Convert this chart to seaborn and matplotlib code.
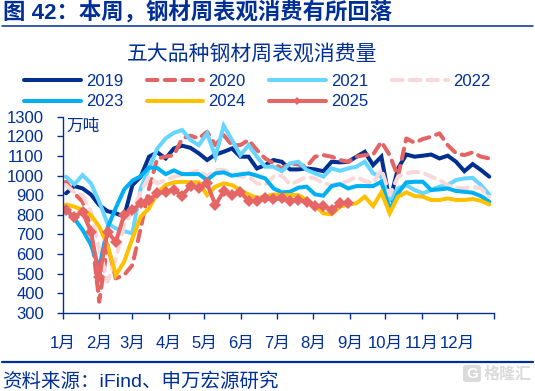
#!/usr/bin/env python3
import numpy as np
import matplotlib
matplotlib.use("Agg")
import matplotlib.pyplot as plt
from matplotlib.patches import FancyBboxPatch
import seaborn as sns

sns.set_theme(style="white")
plt.rcParams["font.family"] = ["Liberation Sans", "Noto Sans CJK SC", "DejaVu Sans"]

# weekly apparent consumption, 10k tons
y2019 = [909, 946, 934, 903, 849, 818, 807, 790, 951, 994, 1096, 1118, 1087, 1138, 1152, 1141, 1113, 1079, 1107, 1121, 1138, 1096, 1096, 1036, 1053,
         1079, 1070, 1031, 1031, 1036, 1031, 1022, 1070, 1067, 1070, 1096, 1121, 1053, 1096, 866, 1036, 1107, 1096, 1101, 1107, 1087, 1101, 1070, 1022, 1058, 1028, 994]
y2020 = [968, 909, 866, 730, 356, 645, 475, 492, 543, 730, 934, 1087, 1096, 1104, 1189, 1203, 1189, 1223, 1155, 1206, 1155, 1155, 1181, 1130, 1087,
         1062, 1036, 1062, 1056, 1045, 1096, 1104, 1096, 1079, 1070, 1096, 1104, 1107, 1172, 1104, 994, 1189, 1167, 1186, 1198, 1215, 1155, 1113, 1104, 1118, 1096, 1087]
y2021 = [994, 955, 1002, 960, 866, 756, 730, 716, 705, 934, 1036, 1138, 1189, 1218, 1232, 1181, 1155, 1215, 1096, 1254, 1181, 1104, 1155, 1096, 1045,
         1045, 1022, 1062, 1070, 1028, 1011, 994, 1036, 1024, 1036, 1045, 1070, 1011, 994, 875, 934, 951, 926, 909, 926, 943, 951, 977, 985, 988, 951, 903]
y2022 = [951, 914, 900, 815, 628, 458, 577, 747, 815, 917, 994, 960, 977, 994, 1002, 1011, 1028, 994, 1028, 1028, 1011, 994, 994, 960, 951,
         994, 999, 955, 972, 994, 985, 960, 951, 960, 972, 994, 972, 960, 1033, 900, 994, 1011, 1019, 1014, 994, 977, 951, 938, 934, 943, 934, 892]
y2023 = [824, 781, 722, 647, 528, 733, 835, 928, 974, 996, 1041, 1038, 1007, 1026, 1007, 1007, 1007, 977, 1011, 1016, 999, 1006, 1011, 999, 985,
         934, 914, 917, 938, 943, 904, 897, 946, 956, 934, 946, 946, 946, 968, 824, 909, 965, 968, 968, 926, 929, 934, 921, 917, 912, 895, 866]
y2024 = [852, 841, 824, 798, 739, 645, 492, 560, 679, 790, 832, 909, 951, 965, 968, 965, 965, 900, 943, 960, 951, 926, 903, 886, 892,
         903, 900, 900, 900, 875, 849, 807, 802, 841, 852, 858, 892, 844, 914, 807, 892, 914, 895, 892, 875, 875, 883, 875, 875, 880, 871, 852]
y2025 = [824, 790, 815, 713, 484, 713, 662, 798, 824, 858, 875, 909, 917, 926, 897, 948, 934, 960, 849, 920, 900, 914, 871, 869, 883,
         878, 886, 869, 875, 866, 844, 846, 824, 858, 858]

month_labels = ["1月", "2月", "3月", "4月", "5月", "6月", "7月", "8月", "9月", "10月", "11月", "12月", ""]
month_days = [0, 31, 59, 90, 120, 151, 181, 212, 243, 273, 304, 334, 365]
y_ticks = [300, 400, 500, 600, 700, 800, 900, 1000, 1100, 1200, 1300]

navy = "#002F96"
series = [
    ("2019", y2019, "#00308F", "-"),
    ("2020", y2020, "#E46464", (0, (2.6, 1.8))),
    ("2021", y2021, "#66D5FF", "-"),
    ("2022", y2022, "#F9D8D9", (0, (2.6, 1.8))),
    ("2023", y2023, "#00B0F0", "-"),
    ("2024", y2024, "#FFC000", "-"),
]

W, H = 535, 391
fig = plt.figure(figsize=(W / 100, H / 100), dpi=100)
ax = fig.add_axes([62.7 / W, 1 - 312.7 / H, (494 - 62.7) / W, 196 / H])

for name, vals, col, ls in series:
    sns.lineplot(x=np.arange(len(vals)), y=vals, ax=ax, color=col, lw=2.9, linestyle=ls,
                 label=name, solid_capstyle="round", dash_capstyle="round", solid_joinstyle="miter")
sns.lineplot(x=np.arange(len(y2025)), y=y2025, ax=ax, color="#E66565", lw=2.9, label="2025",
             marker="D", markersize=6, markeredgewidth=0, solid_capstyle="round")

ax.set_xlim(-0.4, 51.57)
ax.set_ylim(300, 1300)
ax.set_xticks(-0.4 + np.array(month_days) / 365 * 51.97)
ax.set_xticklabels(month_labels)
ax.set_yticks(y_ticks)
ax.tick_params(axis="both", length=4, width=1, color=navy, labelcolor=navy, labelsize=12,
               bottom=True, left=True)
ax.tick_params(axis="x", pad=13)
ax.tick_params(axis="y", pad=9.5)
sns.despine(ax=ax)
for side in ["left", "bottom"]:
    ax.spines[side].set_color(navy)
    ax.spines[side].set_linewidth(1)
ax.set_xlabel("")
ax.set_ylabel("")
fig.text(66 / W, 1 - 126 / H, "万吨", color=navy, fontsize=12, va="center", ha="left")

# legend, column-first fill so rows read 2019..2022 / 2023..2025
h, l = ax.get_legend_handles_labels()
order = [0, 4, 1, 5, 2, 6, 3]
leg = ax.legend([h[i] for i in order], [l[i] for i in order], ncol=4, frameon=False, fontsize=12,
                labelcolor=navy, handlelength=3.4, handletextpad=0.3, columnspacing=1.42, labelspacing=0.33,
                loc="upper left", bbox_to_anchor=(24 / W, 1 - 74 / H), bbox_transform=fig.transFigure,
                borderpad=0, borderaxespad=0)
leg.legend_handles[5].set_markersize(4.5)

# header and footer
fig.text(3 / W, 1 - 12 / H, "图 42：本周，钢材周表观消费有所回落", color=navy, fontsize=16.1,
         fontweight="bold", va="center", ha="left")
fig.add_artist(plt.Line2D([2 / W, 533 / W], [1 - 25.5 / H] * 2, color=navy, lw=1.1))
fig.text(252 / W, 1 - 54 / H, "五大品种钢材周表观消费量", color=navy, fontsize=15, va="center", ha="center")
fig.add_artist(plt.Line2D([2 / W, 533 / W], [1 - 362 / H] * 2, color=navy, lw=1.6))
fig.text(2 / W, 1 - 382 / H, "资料来源：iFind、申万宏源研究", color=navy, fontsize=14, va="center", ha="left")

# watermark
fig.add_artist(FancyBboxPatch((463 / W, 1 - 382 / H), 18 / W, 17 / H, boxstyle="round,pad=0,rounding_size=0.006",
                              transform=fig.transFigure, fc="#DADADA", ec="none"))
fig.text(472 / W, 1 - 373.5 / H, "G", color="white", fontsize=11, fontweight="bold", va="center", ha="center")
fig.text(484 / W, 1 - 373.5 / H, "格隆汇", color="#DADADA", fontsize=11.5, fontweight="bold", va="center", ha="left")

fig.savefig("out.png", dpi=100)
